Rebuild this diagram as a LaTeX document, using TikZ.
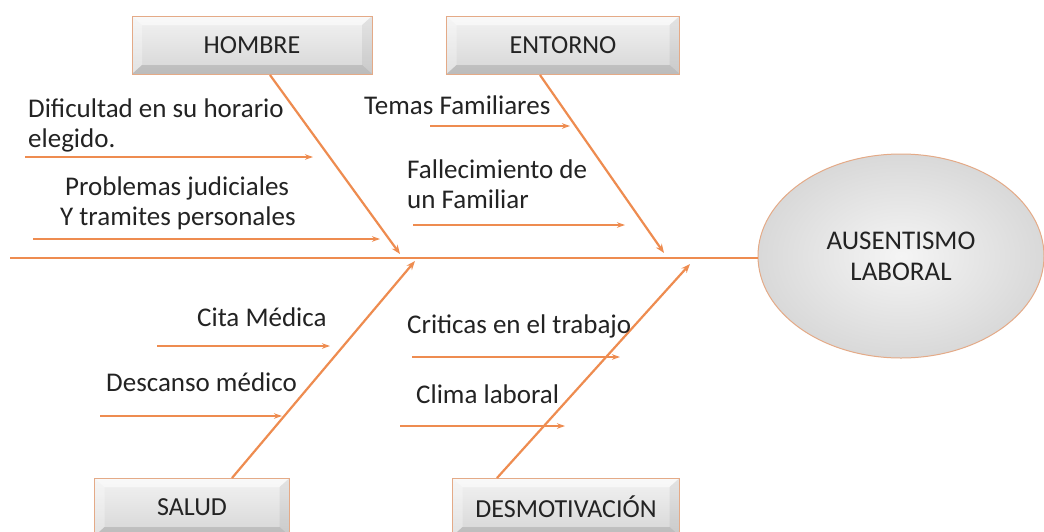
\documentclass[tikz,border=0pt]{standalone}
\usepackage{fontspec}
\setmainfont{Carlito}
\usetikzlibrary{arrows.meta,shapes.geometric}
\definecolor{bone}{RGB}{238,140,80}
\definecolor{boxedge}{RGB}{228,170,135}
\definecolor{txt}{RGB}{35,35,35}
\tikzset{
  catbox/.style={rectangle, draw=boxedge, line width=1pt, top color=gray!10, bottom color=gray!32,
    minimum height=58pt, font=\fontsize{26}{28}\selectfont, text=txt,
    path picture={
      \coordinate (nw) at (path picture bounding box.north west);
      \coordinate (se) at (path picture bounding box.south east);
      \coordinate (ne) at (path picture bounding box.north east);
      \coordinate (sw) at (path picture bounding box.south west);
      \fill[white,opacity=0.55] (nw) -- (ne) -- ([xshift=-10pt,yshift=-9pt]ne) -- ([xshift=10pt,yshift=-9pt]nw) -- cycle;
      \fill[white,opacity=0.3] (nw) -- ([xshift=10pt,yshift=-9pt]nw) -- ([xshift=10pt,yshift=9pt]sw) -- (sw) -- cycle;
      \fill[black,opacity=0.12] (sw) -- (se) -- ([xshift=-10pt,yshift=9pt]se) -- ([xshift=10pt,yshift=9pt]sw) -- cycle;
      \fill[black,opacity=0.06] (ne) -- ([xshift=-10pt,yshift=-9pt]ne) -- ([xshift=-10pt,yshift=9pt]se) -- (se) -- cycle;
    }},
  spine/.style={draw=bone, line width=2.8pt},
  mainbone/.style={draw=bone, line width=2.2pt, -{Stealth[length=9pt,width=7pt]}},
  sub/.style={draw=bone, line width=1.2pt, -{Stealth[length=8pt,width=5.5pt]}},
  cause/.style={font=\fontsize{27}{30}\selectfont, text=txt, align=left, inner sep=0pt, anchor=north west},
}
\begin{document}
\begin{tikzpicture}[x=1pt,y=-1pt]
\useasboundingbox (0,0) rectangle (1044,531);
\clip (0,0) rectangle (1044,531);
\fill[white] (0,0) rectangle (1044,531);

% effect
\node[ellipse, draw=boxedge, line width=1pt, inner color=gray!8, outer color=gray!30,
  minimum width=286pt, minimum height=204pt, align=center, text=txt,
  font=\fontsize{27}{31}\selectfont] (efecto) at (901,256) {AUSENTISMO\\LABORAL};

% category boxes
\node[catbox, minimum width=240pt] (hombre) at (252,45) {HOMBRE};
\node[catbox, minimum width=233pt] (entorno) at (563,45) {ENTORNO};
\node[catbox, minimum width=195pt] (salud) at (192,507) {SALUD};
\node[catbox, minimum width=227pt] (desmot) at (566,507) {DESMOTIVACIÓN};

% spine
\coordinate (tail) at (10,258);
\draw[spine] (tail) -- (efecto.west |- tail);

% bone coordinates
\coordinate (hA) at (270,75);   \coordinate (hB) at (400,254);
\coordinate (eA) at (540,75);   \coordinate (eB) at (664,253);
\coordinate (sA) at (232,478);  \coordinate (sB) at (415,261);
\coordinate (dA) at (497,478);  \coordinate (dB) at (690,264);
\draw[mainbone] (hA) -- (hB);
\draw[mainbone] (eA) -- (eB);
\draw[mainbone] (sA) -- (sB);
\draw[mainbone] (dA) -- (dB);

% sub-cause arrows
\coordinate (a1s) at (25,157);  \coordinate (a1e) at (313,157);
\coordinate (a2s) at (33,239);  \coordinate (a2e) at (380,239);
\coordinate (a3s) at (430,126); \coordinate (a3e) at (570,126);
\coordinate (a4s) at (413,225); \coordinate (a4e) at (625,225);
\coordinate (a5s) at (157,346); \coordinate (a5e) at (330,346);
\coordinate (a6s) at (100,416); \coordinate (a6e) at (282,416);
\coordinate (a7s) at (412,357); \coordinate (a7e) at (620,357);
\coordinate (a8s) at (400,426); \coordinate (a8e) at (565,426);
\foreach \i in {1,...,8} {\draw[sub] (a\i s) -- (a\i e);}

% cause labels
\node[cause] (t1) at (28,99) {Dificultad en su horario\\elegido.};
\node[cause] (t2) at (60,177) {\hspace*{5pt}Problemas judiciales\\Y tramites personales};
\node[cause] (t3) at (364,96) {Temas Familiares};
\node[cause] (t4) at (407,160) {Fallecimiento de\\un Familiar};
\node[cause] (t5) at (197,308) {Cita Médica};
\node[cause] (t6) at (106,373) {Descanso médico};
\node[cause] (t7) at (407,315) {Criticas en el trabajo};
\node[cause] (t8) at (416,385) {Clima laboral};
\end{tikzpicture}
\end{document}
